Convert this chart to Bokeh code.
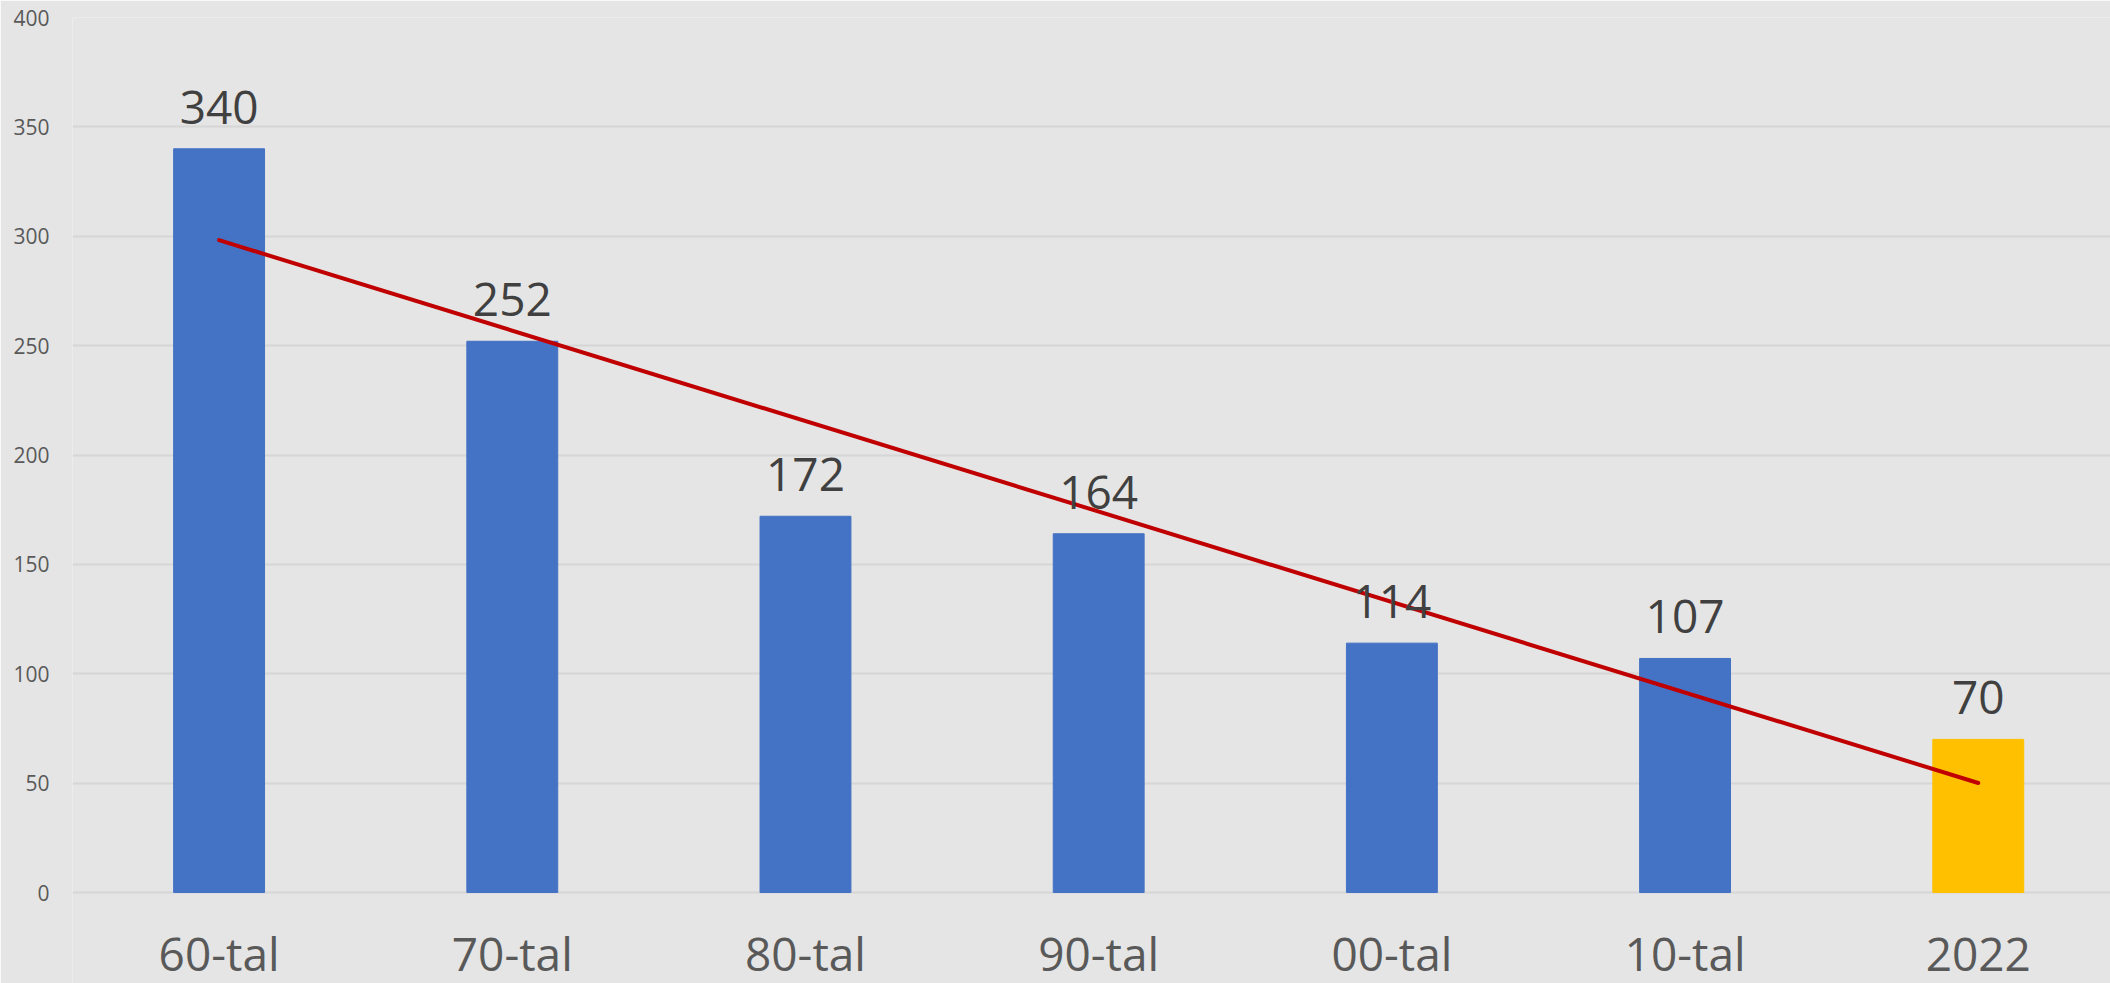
import numpy as np
from bokeh.plotting import figure
from bokeh.models import Range1d, ColumnDataSource, LabelSet, FixedTicker
from bokeh.core.properties import value
from bokeh.embed import file_html
from bokeh.resources import INLINE

categories = ["60-tal", "70-tal", "80-tal", "90-tal", "00-tal", "10-tal", "2022"]
counts = [340, 252, 172, 164, 114, 107, 70]
bar_colors = ["#4472C4", "#4472C4", "#4472C4", "#4472C4", "#4472C4", "#4472C4", "#FFC000"]
y_ticks = [0, 50, 100, 150, 200, 250, 300, 350, 400]

xs = list(range(len(categories)))
slope, intercept = np.polyfit(xs, counts, 1)
trend_x = [xs[0], xs[-1]]
trend_y = [intercept + slope * xs[0], intercept + slope * xs[-1]]

bg = "#e5e5e5"
# frame spans the full height below the top; value 0 sits 91 px above the bottom edge
p = figure(width=2110, height=983, x_range=Range1d(-0.5, 6.451), y_range=Range1d(-41.6, 400),
           output_backend="svg", toolbar_location=None,
           min_border_left=72, min_border_top=17, min_border_bottom=0, min_border_right=0)
p.background_fill_color = bg
p.border_fill_color = bg
p.outline_line_color = None

src = ColumnDataSource(dict(x=xs, top=counts, color=bar_colors, cat=categories,
                            lab=[str(c) for c in counts], zero=[0] * len(xs)))
p.vbar(x="x", top="top", bottom=0, width=0.31, color="color", source=src)
p.line(trend_x, trend_y, line_color="#C00000", line_width=4, line_cap="round")

p.add_layout(LabelSet(x="x", y="top", text="lab", source=src, text_align="center",
                      text_baseline="alphabetic", y_offset=25,
                      text_font=value("Open Sans"), text_font_size="46px",
                      text_color="#404040"))
p.add_layout(LabelSet(x="x", y="zero", text="cat", source=src, text_align="center",
                      text_baseline="alphabetic", y_offset=-78,
                      text_font=value("Open Sans"), text_font_size="46px",
                      text_color="#595959"))

p.xaxis.visible = False
p.xgrid.grid_line_color = None
p.ygrid.grid_line_color = "#d6d6d6"
p.ygrid.grid_line_width = 2
p.yaxis.ticker = FixedTicker(ticks=y_ticks)
p.ygrid.ticker = FixedTicker(ticks=y_ticks)
p.yaxis.axis_line_color = None
p.yaxis.major_tick_line_color = None
p.yaxis.minor_tick_line_color = None
p.yaxis.major_tick_out = 0
p.yaxis.major_tick_in = 0
p.yaxis.major_label_standoff = 23
p.yaxis.major_label_text_font = "Open Sans"
p.yaxis.major_label_text_font_size = "21px"
p.yaxis.major_label_text_color = "#595959"

open("out.html", "w").write(file_html(p, INLINE))
